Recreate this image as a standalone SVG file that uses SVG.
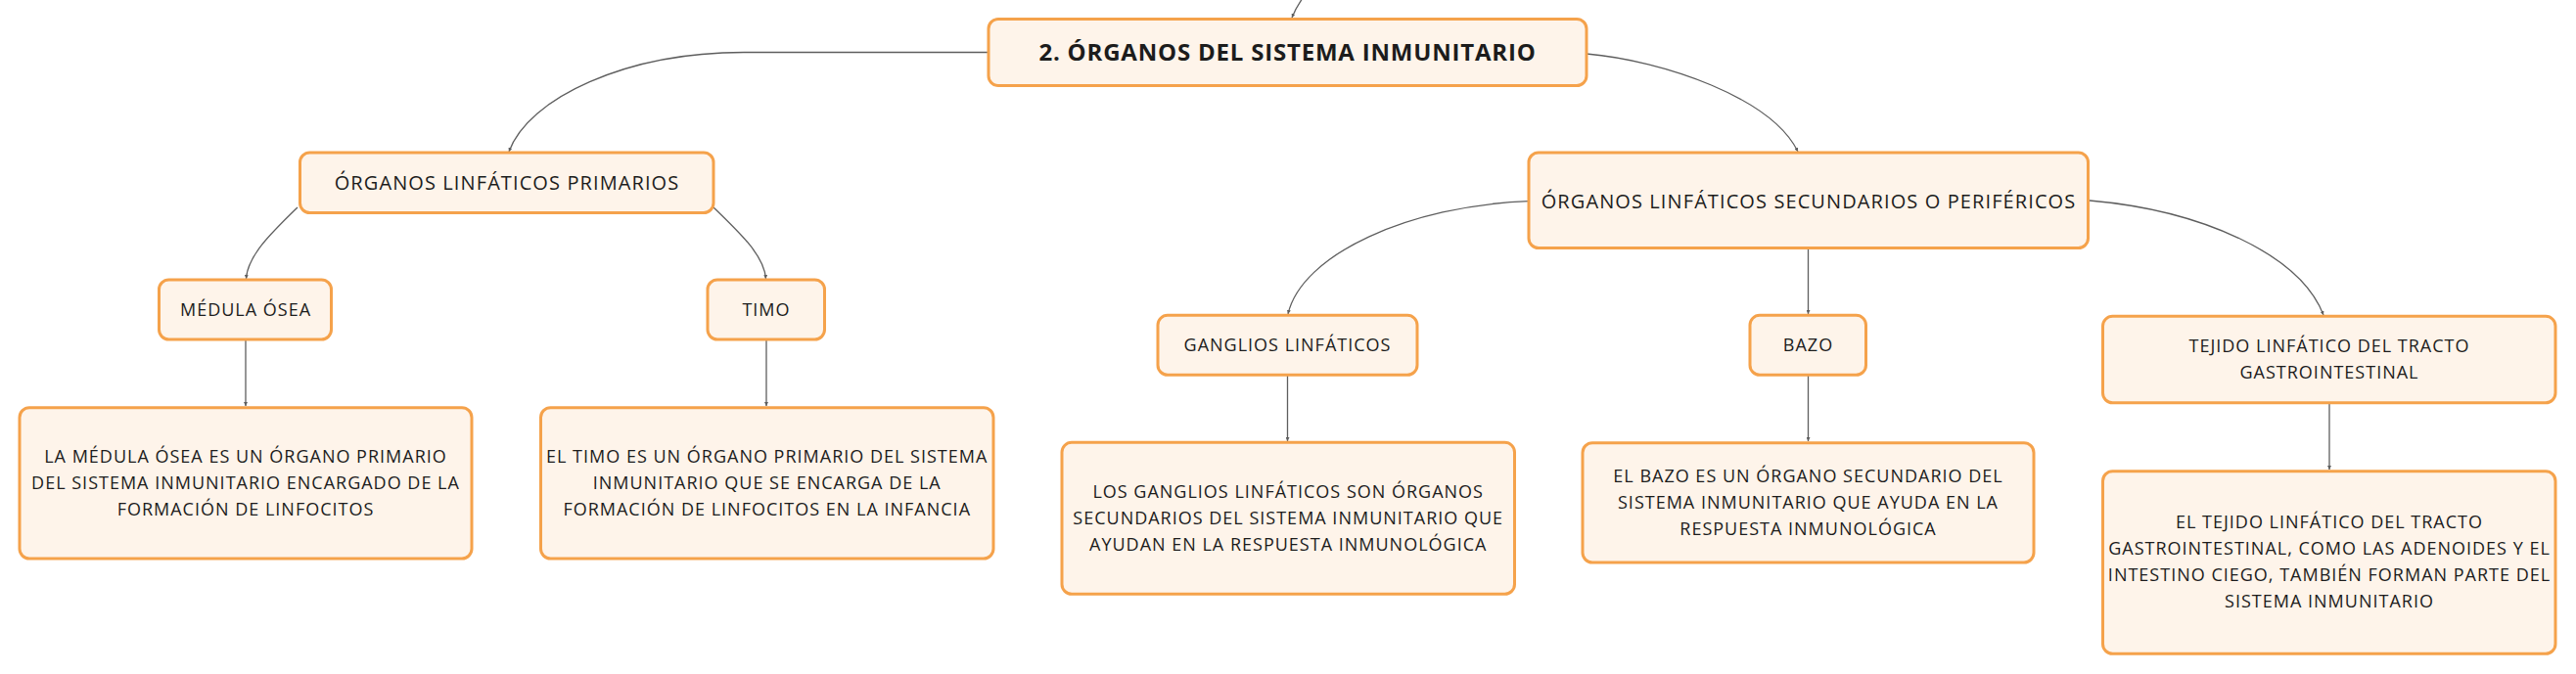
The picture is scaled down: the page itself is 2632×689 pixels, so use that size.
<svg xmlns="http://www.w3.org/2000/svg" width="2632" height="689" viewBox="0 0 2632 689">
<defs>
<style>
.box{fill:#FEF4EA;stroke:#F5A24B;stroke-width:3}
.t{font-family:"Open Sans","Liberation Sans",sans-serif;fill:#1c1c1c;text-anchor:middle}
.root{font-size:24px;font-weight:700;letter-spacing:0.8px}
.l2{font-size:20px;letter-spacing:1.1px}
.l3{font-size:18px;letter-spacing:1px}
.d{font-size:18px;letter-spacing:1px}
.c{fill:none;stroke:#5e5e5e;stroke-width:1.3;marker-end:url(#ah)}
</style>
<marker id="ah" markerUnits="userSpaceOnUse" markerWidth="5" markerHeight="4" refX="4" refY="2" orient="auto">
<path d="M0,0 L4,2 L0,4 z" fill="#5e5e5e"/>
</marker>
</defs>
<rect width="2632" height="689" fill="#ffffff"/>
<g id="connectors">
<path class="c" d="M1331,-2 Q1324,8 1320,18"/>
<path class="c" d="M1010,53.5 H760 C640,53.5 540,100 520,155"/>
<path class="c" d="M1621,55 C1700,62 1810,100 1837,155"/>
<path class="c" d="M304,212 C275,240 253,262 251.5,285"/>
<path class="c" d="M729,212 C758,240 781,262 782.5,285"/>
<path class="c" d="M251,348 V415"/>
<path class="c" d="M783,348 V415"/>
<path class="c" d="M1562,205.7 C1440,210 1330,260 1316,321"/>
<path class="c" d="M1847.5,254 V321"/>
<path class="c" d="M2135,205 C2250,215 2350,260 2374,322"/>
<path class="c" d="M1315.5,384 V451"/>
<path class="c" d="M1847.5,384 V451"/>
<path class="c" d="M2380,413 V480"/>
</g>
<g id="root">
<rect class="box" x="1010" y="19.5" width="611" height="68" rx="10"/>
<text class="t root" x="1315.5" y="62">2. ÓRGANOS DEL SISTEMA INMUNITARIO</text>
</g>
<g id="primarios">
<rect class="box" x="306.5" y="156" width="422.5" height="61.5" rx="10"/>
<text class="t l2" x="518" y="194">ÓRGANOS LINFÁTICOS PRIMARIOS</text>
</g>
<g id="secundarios">
<rect class="box" x="1562" y="156" width="571.5" height="97.5" rx="10"/>
<text class="t l2" x="1848" y="212.5">ÓRGANOS LINFÁTICOS SECUNDARIOS O PERIFÉRICOS</text>
</g>
<g id="medula">
<rect class="box" x="162.5" y="286" width="176" height="61" rx="10"/>
<text class="t l3" x="251" y="323">MÉDULA ÓSEA</text>
</g>
<g id="timo">
<rect class="box" x="723" y="286" width="119.5" height="61" rx="10"/>
<text class="t l3" x="783" y="323">TIMO</text>
</g>
<g id="ganglios">
<rect class="box" x="1183" y="322.3" width="265" height="61" rx="10"/>
<text class="t l3" x="1315.5" y="359.2">GANGLIOS LINFÁTICOS</text>
</g>
<g id="bazo">
<rect class="box" x="1788" y="322.3" width="118.5" height="61" rx="10"/>
<text class="t l3" x="1847.5" y="359.2">BAZO</text>
</g>
<g id="tejido">
<rect class="box" x="2148.5" y="323.3" width="462.5" height="88.5" rx="10"/>
<text class="t l3" x="2380" y="360.4">TEJIDO LINFÁTICO DEL TRACTO</text>
<text class="t l3" x="2380" y="387.4">GASTROINTESTINAL</text>
</g>
<g id="medula-desc">
<rect class="box" x="20" y="416.7" width="462" height="154.3" rx="10"/>
<text class="t d" x="251" y="473.3">LA MÉDULA ÓSEA ES UN ÓRGANO PRIMARIO</text>
<text class="t d" x="251" y="500.3">DEL SISTEMA INMUNITARIO ENCARGADO DE LA</text>
<text class="t d" x="251" y="527.3">FORMACIÓN DE LINFOCITOS</text>
</g>
<g id="timo-desc">
<rect class="box" x="552.5" y="416.7" width="462.5" height="154.3" rx="10"/>
<text class="t d" x="783.7" y="473.3">EL TIMO ES UN ÓRGANO PRIMARIO DEL SISTEMA</text>
<text class="t d" x="783.7" y="500.3">INMUNITARIO QUE SE ENCARGA DE LA</text>
<text class="t d" x="783.7" y="527.3">FORMACIÓN DE LINFOCITOS EN LA INFANCIA</text>
</g>
<g id="ganglios-desc">
<rect class="box" x="1085" y="452.3" width="462.5" height="155" rx="10"/>
<text class="t d" x="1316.2" y="509.2">LOS GANGLIOS LINFÁTICOS SON ÓRGANOS</text>
<text class="t d" x="1316.2" y="536.2">SECUNDARIOS DEL SISTEMA INMUNITARIO QUE</text>
<text class="t d" x="1316.2" y="563.2">AYUDAN EN LA RESPUESTA INMUNOLÓGICA</text>
</g>
<g id="bazo-desc">
<rect class="box" x="1617" y="452.7" width="461" height="122.3" rx="10"/>
<text class="t d" x="1847.5" y="493.3">EL BAZO ES UN ÓRGANO SECUNDARIO DEL</text>
<text class="t d" x="1847.5" y="520.3">SISTEMA INMUNITARIO QUE AYUDA EN LA</text>
<text class="t d" x="1847.5" y="547.3">RESPUESTA INMUNOLÓGICA</text>
</g>
<g id="tejido-desc">
<rect class="box" x="2148.5" y="481.7" width="462.5" height="186.6" rx="10"/>
<text class="t d" x="2380" y="540.4">EL TEJIDO LINFÁTICO DEL TRACTO</text>
<text class="t d" x="2380" y="567.4">GASTROINTESTINAL, COMO LAS ADENOIDES Y EL</text>
<text class="t d" x="2380" y="594.4">INTESTINO CIEGO, TAMBIÉN FORMAN PARTE DEL</text>
<text class="t d" x="2380" y="621.4">SISTEMA INMUNITARIO</text>
</g>
</svg>
